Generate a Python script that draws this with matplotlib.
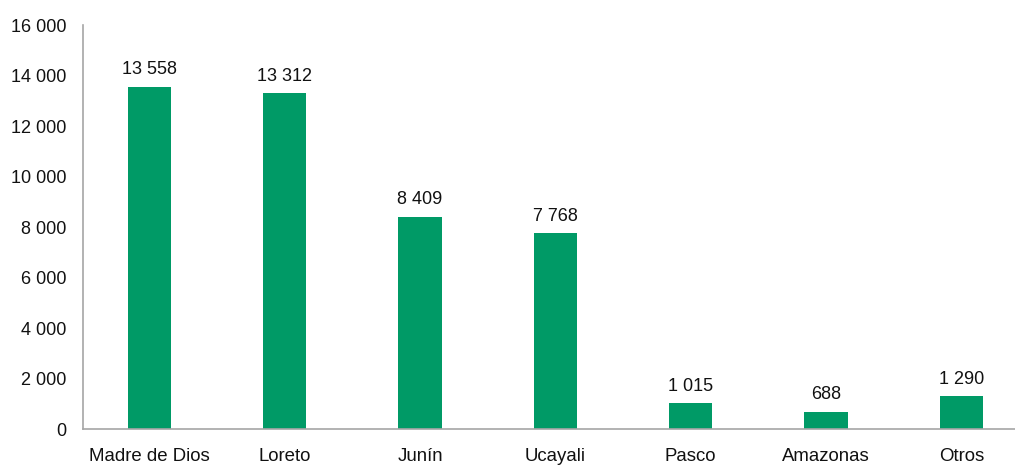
import matplotlib.pyplot as plt
from matplotlib.ticker import FuncFormatter

plt.rcParams["font.family"] = ["Liberation Sans", "DejaVu Sans"]

regions = ["Madre de Dios", "Loreto", "Junín", "Ucayali", "Pasco", "Amazonas", "Otros"]
values = [13558, 13312, 8409, 7768, 1015, 688, 1290]
bar_color = "#009A66"
axis_color = "#A6A6A6"


def thousands(v, pos=None):
    return f"{int(v):,}".replace(",", " ")


fig = plt.figure(figsize=(10.15, 4.65), dpi=100)
ax = fig.add_axes([0.0818, 0.0774, 0.932, 0.8688])

x = list(range(len(regions)))
bars = ax.bar(x, values, width=0.318, color=bar_color)

for rect, v in zip(bars, values):
    ax.annotate(thousands(v), (rect.get_x() + rect.get_width() / 2, v),
                xytext=(0, 6), textcoords="offset points",
                ha="center", va="bottom", fontsize=13, color="#111111")

ax.set_xlim(-0.49, 6.5)
ax.set_ylim(0, 16000)
ax.set_yticks(range(0, 16001, 2000))
ax.yaxis.set_major_formatter(FuncFormatter(thousands))
ax.set_xticks(x)
ax.set_xticklabels(regions, fontsize=13.4)

ax.tick_params(axis="both", length=0, colors="#111111")
ax.tick_params(axis="y", labelsize=13, pad=12)
ax.tick_params(axis="x", pad=14)

for side in ["top", "right"]:
    ax.spines[side].set_visible(False)
for side in ["left", "bottom"]:
    ax.spines[side].set_color(axis_color)
    ax.spines[side].set_linewidth(1.2)

fig.savefig("out.png", dpi=100)
